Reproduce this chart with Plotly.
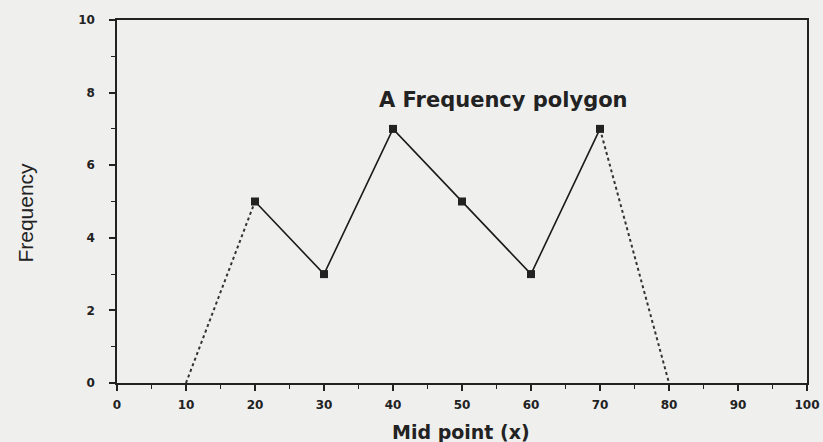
import plotly.graph_objects as go

mid_points = [20, 30, 40, 50, 60, 70]
frequency = [5, 3, 7, 5, 3, 7]
left_ext_x = [10, 20]
left_ext_y = [0, 5]
right_ext_x = [70, 80]
right_ext_y = [7, 0]
x_ticks = [0, 10, 20, 30, 40, 50, 60, 70, 80, 90, 100]
y_ticks = [0, 2, 4, 6, 8, 10]

BG = "#efefee"
INK = "#222222"

fig = go.Figure()
fig.add_trace(go.Scatter(x=left_ext_x, y=left_ext_y, mode="lines",
                         line=dict(color="#333333", width=2, dash="dot"), showlegend=False))
fig.add_trace(go.Scatter(x=right_ext_x, y=right_ext_y, mode="lines",
                         line=dict(color="#333333", width=2, dash="dot"), showlegend=False))
fig.add_trace(go.Scatter(x=mid_points, y=frequency, mode="lines+markers",
                         line=dict(color="#1a1a1a", width=1.6),
                         marker=dict(symbol="square", size=8, color=INK),
                         showlegend=False))

fig.add_annotation(x=56, y=7.8, text="<b>A Frequency polygon</b>", showarrow=False,
                   font=dict(family="DejaVu Sans", size=21, color=INK))
fig.add_annotation(xref="paper", yref="paper", x=-0.133, y=0.47, text="Frequency",
                   textangle=-90, showarrow=False, xanchor="center", yanchor="middle",
                   font=dict(family="Liberation Sans, Arial", size=21, color=INK))
fig.add_annotation(xref="paper", yref="paper", x=0.498, y=-0.135, text="<b>Mid point (x)</b>",
                   showarrow=False, xanchor="center", yanchor="middle",
                   font=dict(family="DejaVu Sans", size=19, color=INK))

axis_common = dict(showgrid=False, zeroline=False, showline=True, linecolor=INK,
                   linewidth=1.5, mirror=True, ticks="outside", ticklen=6, tickwidth=1.5,
                   tickcolor=INK, automargin=False, ticklabeloverflow="allow",
                   tickfont=dict(family="DejaVu Sans", size=12, color=INK),
                   minor=dict(ticks="outside", ticklen=4, tickwidth=1.2, tickcolor=INK))

fig.update_xaxes(range=[0, 100], tickvals=x_ticks,
                 ticktext=[f"<b>{v}</b>" for v in x_ticks],
                 minor_dtick=5, ticklabelstandoff=4, **axis_common)
fig.update_yaxes(range=[0, 10], tickvals=y_ticks,
                 ticktext=[f"<b>{v}</b>" for v in y_ticks],
                 minor_dtick=1, ticklabelstandoff=12, **axis_common)

fig.update_layout(width=823, height=442, margin=dict(l=117, r=16, t=20, b=59),
                  paper_bgcolor=BG, plot_bgcolor=BG)
fig.write_html("out.html", config={"displayModeBar": False},
               post_script="document.body.style.margin='0';document.body.style.background='%s';" % BG)
